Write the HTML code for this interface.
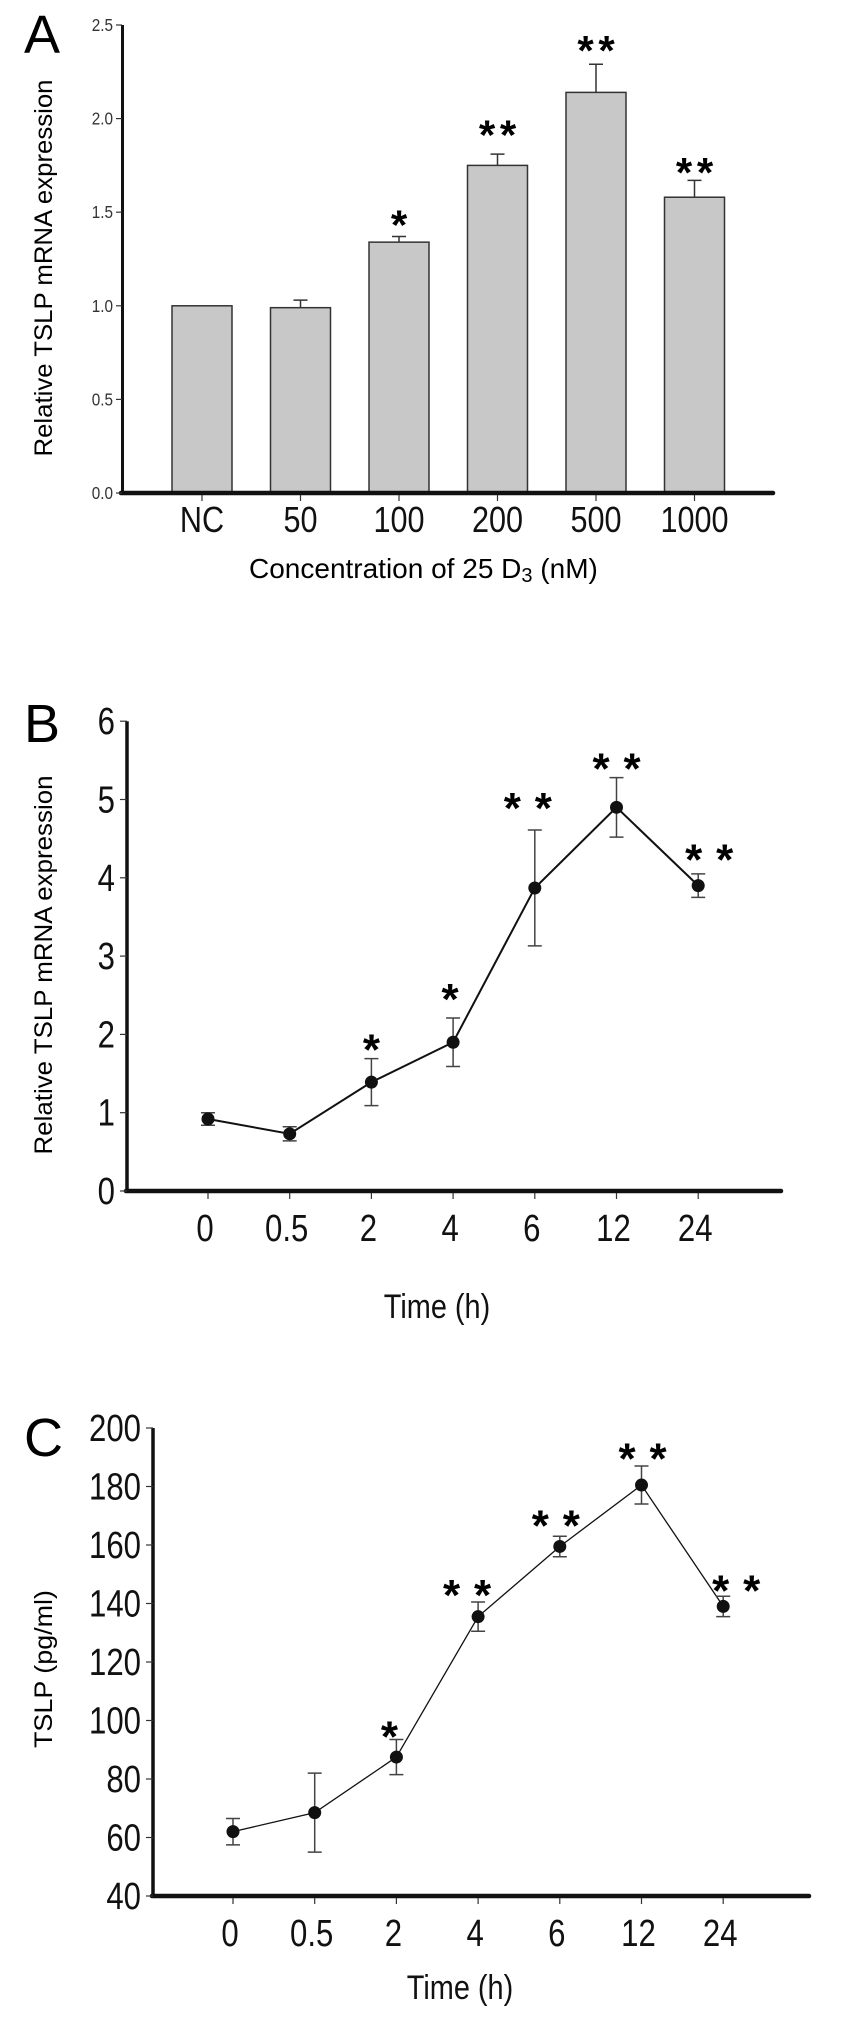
<!DOCTYPE html>
<html><head><meta charset="utf-8"><style>
html,body{margin:0;padding:0;background:#fff;}
svg{display:block;font-family:"Liberation Sans",Arial,sans-serif;}
</style></head><body>
<svg id="fig" width="861" height="2037" viewBox="0 0 861 2037"></svg>
<script>
// ---- Panel A data ----
const catsA = ["NC","50","100","200","500","1000"];
const valsA = [1.0, 0.99, 1.34, 1.75, 2.14, 1.58];
const errA  = [0, 0.04, 0.03, 0.06, 0.15, 0.09];
const starsA = ["", "", "*", "**", "**", "**"];
const starYA = [0, 0, 1.49, 1.97, 2.42, 1.77];
const ticksA = ["0.0","0.5","1.0","1.5","2.0","2.5"];
// ---- Panel B data ----
const catsB = ["0","0.5","2","4","6","12","24"];
const valsB = [0.92, 0.73, 1.39, 1.90, 3.87, 4.90, 3.90];
const errB  = [0.08, 0.09, 0.30, 0.31, 0.74, 0.38, 0.15];
const starsB = ["", "", "*", "*", "**", "**", "**"];
const starYB = [0, 0, 1.95, 2.6, 5.04, 5.54, 4.38];
const ticksB = ["0","1","2","3","4","5","6"];
// ---- Panel C data ----
const catsC = ["0","0.5","2","4","6","12","24"];
const valsC = [62, 68.5, 87.5, 135.5, 159.5, 180.5, 139];
const errC  = [4.5, 13.5, 6, 5, 3.5, 6.5, 3.5];
const starsC = ["", "", "*", "**", "**", "**", "**"];
const starYC = [0, 0, 98.5, 146.8, 170.6, 193.5, 148.4];
const ticksC = ["40","60","80","100","120","140","160","180","200"];

const NS="http://www.w3.org/2000/svg";
const svg=document.getElementById('fig');
function mk(tag,attrs,parent){const e=document.createElementNS(NS,tag);for(const k in attrs)e.setAttribute(k,attrs[k]);(parent||svg).appendChild(e);return e;}
function txt(s,attrs,parent){const e=mk('text',attrs,parent);e.textContent=s;return e;}
function ntxt(s,x,y,anchor,size,sx,parent){
  return txt(s,{x:0,y:0,'text-anchor':anchor,'font-size':size,fill:'#111',transform:`translate(${x},${y}) scale(${sx},1)`},parent);
}

function stars(g,str,x,y,gap,size){
  const n=str.length;
  for(let k=0;k<n;k++){
    const sx=x+(k-(n-1)/2)*gap;
    const t=txt('*',{x:sx,y:y+size*0.6,'text-anchor':'middle','font-size':size,'font-weight':'bold',fill:'#000'},g);
    
    
  }
}

// ================= Panel A =================
(function(){
  const g=mk('g',{});
  
  
  const x0=202, dx=98.5, y0=493, ppu=187.2, bw=60;
  const xs=i=>x0+i*dx, ys=v=>y0-v*ppu;
  txt('A',{x:24,y:53,'font-size':54,fill:'#000'},g);
  valsA.forEach((v,i)=>{
    const r=mk('rect',{x:xs(i)-bw/2,y:ys(v),width:bw,height:y0-ys(v),fill:'#c8c8c8',stroke:'#333','stroke-width':1.5},g);
    
    
    if(errA[i]>0){
      const e=mk('path',{d:`M${xs(i)},${ys(v)} V${ys(v+errA[i])} M${xs(i)-7},${ys(v+errA[i])} H${xs(i)+7}`,stroke:'#333','stroke-width':1.5,fill:'none'},g);
      
      
    }
    if(starsA[i]) stars(g,starsA[i],xs(i),ys(starYA[i]),21,42);
  });
  mk('line',{x1:122.5,y1:ys(2.5),x2:122.5,y2:y0+2,stroke:'#111','stroke-width':3},g);
  mk('line',{x1:121,y1:y0,x2:773,y2:y0,stroke:'#111','stroke-width':4.5,'stroke-linecap':'round'},g);
  ticksA.forEach((t,k)=>{
    const v=k*0.5;
    mk('line',{x1:116,y1:ys(v),x2:122,y2:ys(v),stroke:'#333','stroke-width':1.2},g);
    const l=ntxt(t,113,ys(v)+6,'end',18,0.85,g);
    l.setAttribute('fill','#333');
    
    
  });
  catsA.forEach((c,i)=>{
    mk('line',{x1:xs(i),y1:y0+2,x2:xs(i),y2:y0+8,stroke:'#333','stroke-width':1.2},g);
    const l=ntxt(c,xs(i),532,'middle',36,0.85,g);
    
    
  });
  const yt=txt('Relative TSLP mRNA expression',{x:0,y:0,'text-anchor':'middle','font-size':25,fill:'#000',transform:'translate(52,268) rotate(-90)',textLength:377,lengthAdjust:'spacingAndGlyphs'},g);
  
  const xt=mk('text',{x:249,y:578,'font-size':28,fill:'#000'},g);
  
  xt.innerHTML='Concentration of 25 D<tspan font-size="20" dy="4">3</tspan><tspan dy="-4"> (nM)</tspan>';
})();

// ================= Line panels =================
function linePanel(opt){
  const g=mk('g',{});
  
  
  const xs=i=>opt.x0+i*opt.dx;
  const ys=v=>opt.yb-(v-opt.vmin)*opt.ppu;
  txt(opt.letter,{x:24,y:opt.letterY,'font-size':54,fill:'#000'},g);
  mk('line',{x1:opt.ax,y1:ys(opt.vmax),x2:opt.ax,y2:opt.yb+2,stroke:'#111','stroke-width':3.5},g);
  mk('line',{x1:opt.ax-1,y1:opt.yb,x2:opt.xend,y2:opt.yb,stroke:'#111','stroke-width':4.5,'stroke-linecap':'round'},g);
  opt.ticks.forEach((t,k)=>{
    const v=opt.vmin+k*opt.step;
    mk('line',{x1:opt.ax-7,y1:ys(v),x2:opt.ax,y2:ys(v),stroke:'#333','stroke-width':1.2},g);
    const l=ntxt(t,opt.ax-12,ys(v)+13,'end',38,0.82,g);
    
    
  });
  opt.cats.forEach((c,i)=>{
    mk('line',{x1:xs(i),y1:opt.yb+2,x2:xs(i),y2:opt.yb+8,stroke:'#333','stroke-width':1.2},g);
    const l=ntxt(c,xs(i)-3,opt.yb+50,'middle',38,0.82,g);
    
    
  });
  const pts=opt.vals.map((v,i)=>xs(i)+','+ys(v)).join(' ');
  const pl=mk('polyline',{points:pts,fill:'none',stroke:'#111','stroke-width':opt.lw},g);
  
  
  opt.vals.forEach((v,i)=>{
    const e=opt.errs[i];
    const eb=mk('path',{d:`M${xs(i)},${ys(v+e)} V${ys(v-e)} M${xs(i)-7},${ys(v+e)} H${xs(i)+7} M${xs(i)-7},${ys(v-e)} H${xs(i)+7}`,stroke:'#444','stroke-width':1.5,fill:'none'},g);
    
    
    const d=mk('circle',{cx:xs(i),cy:ys(v),r:6.5,fill:'#111'},g);
    
    
    if(opt.stars[i]) stars(g,opt.stars[i],xs(i)+opt.starDx[i],ys(opt.starY[i]),31,44);
  });
  const yt=txt(opt.ytitle,{x:0,y:0,'text-anchor':'middle','font-size':25,fill:'#000',transform:`translate(52,${opt.ytY}) rotate(-90)`,textLength:opt.ytLen,lengthAdjust:'spacingAndGlyphs'},g);
  
  
  const xt=ntxt('Time (h)',opt.xtX,opt.xtY,'middle',34,0.85,g);
  
  
}

linePanel({name:'panel-b-line-chart',letter:'B',letterY:742,cats:catsB,vals:valsB,errs:errB,stars:starsB,starY:starYB,
  starDx:[0,0,0,-3,-7,0,11],ticks:ticksB,vmin:0,vmax:6,step:1,x0:208,dx:81.7,yb:1191,ppu:78.3,ax:127,xend:781,lw:2,
  ytitle:'Relative TSLP mRNA expression',ytY:965,ytLen:379,xtX:437,xtY:1318});
linePanel({name:'panel-c-line-chart',letter:'C',letterY:1456,cats:catsC,vals:valsC,errs:errC,stars:starsC,starY:starYC,
  starDx:[0,0,-7,-11,-4,1,13],ticks:ticksC,vmin:40,vmax:200,step:20,x0:233,dx:81.7,yb:1896,ppu:2.925,ax:153,xend:809,lw:1.3,
  ytitle:'TSLP (pg/ml)',ytY:1669,ytLen:158,xtX:460,xtY:1999});
</script>
</body></html>
